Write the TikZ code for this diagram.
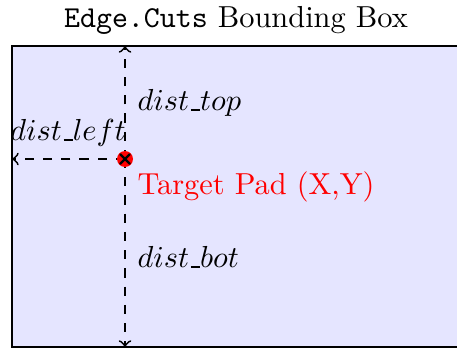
\documentclass[tikz,border=0pt]{standalone}
\usetikzlibrary{calc}
\newcommand{\myus}{\mbox{\kern0.06em\rule{0.3em}{0.4pt}}}
\begin{document}
\begin{tikzpicture}[x=0.329pt,y=-0.329pt,
  boxstyle/.style={draw=black,line width=0.8pt,fill=blue!10},
  distarrow/.style={dashed,->,line width=0.6pt},
  lbl/.style={anchor=west,inner sep=0pt}]
\useasboundingbox (0,0) rectangle (457,349);
\begin{scope}
\clip (0,0) rectangle (457,349);
\node[inner sep=0pt] (title) at (236,20) {\texttt{Edge.Cuts} Bounding Box};
\draw[boxstyle] (12,46) rectangle (480,347);
\coordinate (tl) at (12,46);
\coordinate (bl) at (12,347);
\coordinate (pad) at (125,159);
\draw[distarrow] (pad) -- (pad |- tl);
\draw[distarrow] (pad) -- (pad |- bl);
\draw[distarrow] (pad) -- (pad -| tl);
\fill[red] (pad) circle (8);
\draw[black,line width=0.8pt] ($(pad)+(-5,-5)$) -- ($(pad)+(5,5)$) ($(pad)+(-5,5)$) -- ($(pad)+(5,-5)$);
\node[lbl] (top) at (137,103) {$dist\myus top$};
\node[inner sep=0pt] (left) at (68,133) {$dist\myus left$};
\node[lbl,text=red] (tp) at (137,187) {Target Pad (X,Y)};
\node[lbl] (bot) at (137,257) {$dist\myus bot$};
\end{scope}
\end{tikzpicture}
\end{document}
